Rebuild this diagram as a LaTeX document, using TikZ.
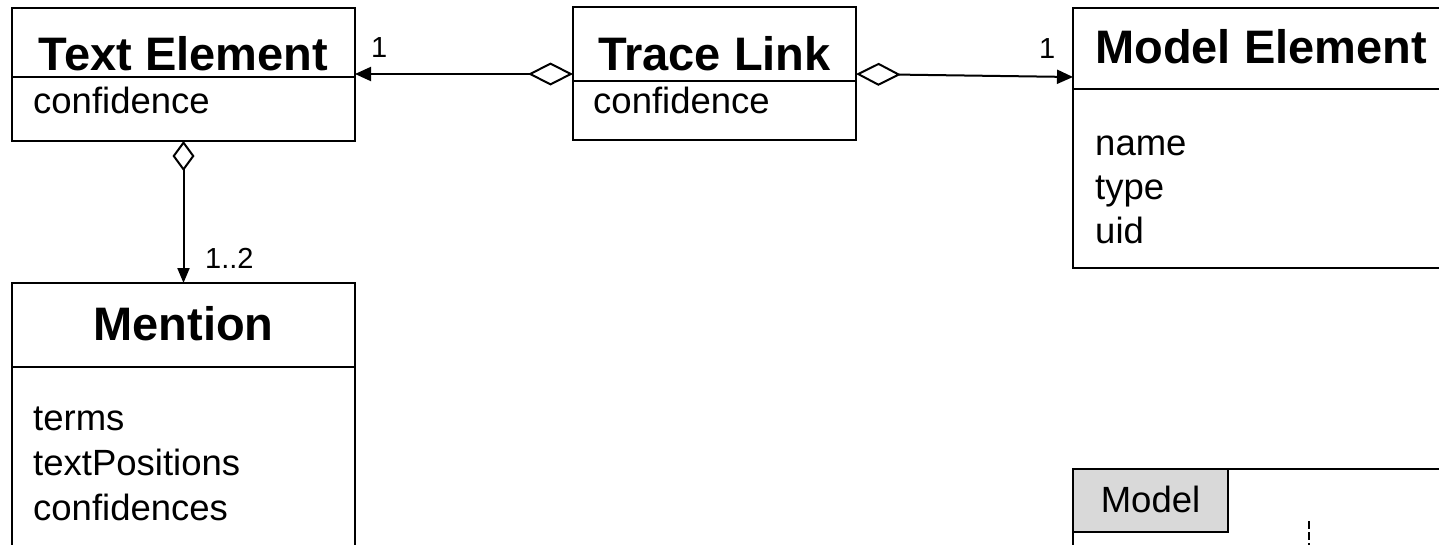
\documentclass[tikz,border=0pt]{standalone}
\usepackage{fontspec}
\setmainfont{Liberation Sans}
\usetikzlibrary{arrows.meta}
\begin{document}
\begin{tikzpicture}[x=1pt,y=-1pt,
  box/.style={draw, line width=2pt, inner sep=0pt, outer sep=0pt, anchor=north west},
  tabbox/.style={box, fill=black!15},
  titletext/.style={font=\bfseries\fontsize{47}{47}\selectfont, inner sep=0pt, anchor=base},
  attrtext/.style={font=\fontsize{36.5}{44}\selectfont, inner sep=0pt, anchor=base west},
  multtext/.style={font=\fontsize{29}{29}\selectfont, inner sep=0pt, anchor=base west},
  assoc/.style={line width=2pt, {Diamond[open,length=45pt,width=23pt]}-{Triangle[length=16pt,width=14pt]}},
  vassoc/.style={line width=2pt, {Diamond[open,length=30pt,width=22pt]}-{Triangle[length=15pt,width=12pt]}},
  lifeline/.style={line width=2pt, dash pattern=on 8pt off 3pt},
]
\useasboundingbox (0,0) rectangle (1439,544);
\clip (0,0) rectangle (1439,544);

% Text Element
\node[box, minimum width=343pt, minimum height=69pt] (tehead) at (12,8) {};
\node[box, minimum width=343pt, minimum height=64pt] (tebody) at (12,77) {};
\node[titletext] (tetitle) at (183.5,70) {Text Element};
\node[attrtext] (teconf) at (33,113) {confidence};

% Trace Link
\node[box, minimum width=283pt, minimum height=74pt] (tlhead) at (573,7) {};
\node[box, minimum width=283pt, minimum height=59pt] (tlbody) at (573,81) {};
\node[titletext] (tltitle) at (714.5,70) {Trace Link};
\node[attrtext] (tlconf) at (593,113) {confidence};

% Model Element
\node[box, minimum width=400pt, minimum height=81pt] (mehead) at (1073,8) {};
\node[box, minimum width=400pt, minimum height=179pt] (mebody) at (1073,89) {};
\node[titletext, anchor=base west] (metitle) at (1095,63) {Model Element};
\node[attrtext] (mename) at (1095,155) {name};
\node[attrtext] (metype) at (1095,199) {type};
\node[attrtext] (meuid) at (1095,243) {uid};

% Mention
\node[box, minimum width=343pt, minimum height=84pt] (mnhead) at (12,283) {};
\node[box, minimum width=343pt, minimum height=250pt] (mnbody) at (12,367) {};
\node[titletext] (mntitle) at (183.5,340) {Mention};
\node[attrtext] (mnterms) at (33,430) {terms};
\node[attrtext] (mnpos) at (33,475) {textPositions};
\node[attrtext] (mnconf) at (33,520) {confidences};

% Model frame
\node[box, minimum width=400pt, minimum height=200pt] (frame) at (1073,469) {};
\node[tabbox, minimum width=155pt, minimum height=63pt] (tab) at (1073,469) {};
\node[attrtext, anchor=base] (tablabel) at (1150.5,512) {Model};
\coordinate (lifetop) at (1309,521);
\draw[lifeline] (lifetop) -- (lifetop |- frame.south);

% Connectors
\draw[assoc] ([yshift=7pt]tlhead.south west) -- ([yshift=3pt]tehead.south east);
\draw[assoc] ([yshift=7pt]tlhead.south east) -- ([yshift=12pt]mehead.south west);
\draw[vassoc] (tebody.south) -- (mnhead.north);

% Multiplicities
\node[multtext] (m1) at (371,57) {1};
\node[multtext] (m2) at (1039,58) {1};
\node[multtext] (m3) at (205,268) {1..2};
\end{tikzpicture}
\end{document}
